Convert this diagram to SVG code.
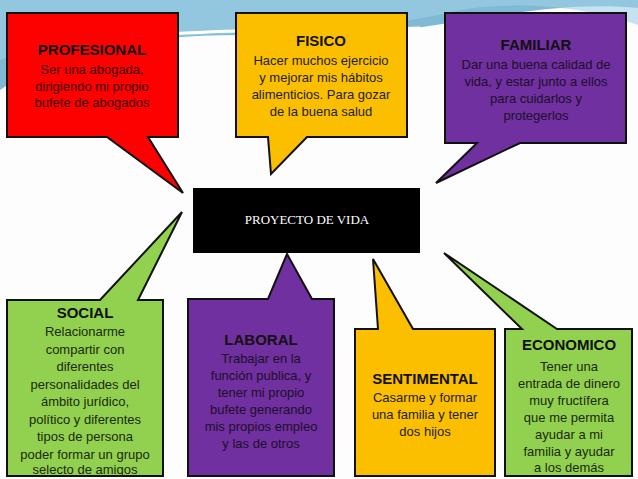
<svg xmlns="http://www.w3.org/2000/svg" width="638" height="479" viewBox="0 0 638 479">
<style>
.b{stroke:#111;stroke-width:2;stroke-linejoin:miter}
.t{font-family:"Liberation Sans",Arial,sans-serif;font-weight:bold;font-size:15px;text-anchor:middle;fill:#111}
.d{font-family:"Liberation Sans",Arial,sans-serif;font-size:13px;text-anchor:middle}
</style>
<rect width="638" height="479" fill="#fdfdfd"/>
<path d="M0 0H638V8C560 0 480 20 400 30C300 40 200 28 120 45C70 55 30 70 0 90Z" fill="#7fb9d4"/>
<path d="M0 60C60 35 130 40 200 35C300 30 380 30 460 10C520 0 590 8 638 25V0H0Z" fill="#9fd0e6" opacity="0.6"/>
<path d="M150 35C250 28 330 30 420 28" stroke="#fff" stroke-width="3" fill="none"/>
<g id="profesional"><path class="b" fill="#fd0000" d="M7 13H178V137H148L183 193L107 137H7Z"/>
<text class="t" x="92" y="55">PROFESIONAL</text>
<text class="d" fill="#3a0000"><tspan x="92" y="74">Ser una abogada,</tspan><tspan x="92" y="91">dirigiendo mi propio</tspan><tspan x="92" y="107">bufete de abogados</tspan></text></g>
<g id="fisico"><path class="b" fill="#fcbf00" d="M236 13H407V137H307L271 174L268 137H236Z"/>
<text class="t" x="321" y="46">FISICO</text>
<text class="d" fill="#222"><tspan x="321" y="65">Hacer muchos ejercicio</tspan><tspan x="321" y="82">y mejorar mis hábitos</tspan><tspan x="321" y="99">alimenticios. Para gozar</tspan><tspan x="321" y="116">de la buena salud</tspan></text></g>
<g id="familiar"><path class="b" fill="#7030a0" d="M445 13H626V143H520L436 183L477 143H445Z"/>
<text class="t" x="536" y="50">FAMILIAR</text>
<text class="d" fill="#1c0f2a"><tspan x="536" y="69">Dar una buena calidad de</tspan><tspan x="536" y="86">vida, y estar junto a ellos</tspan><tspan x="536" y="103">para cuidarlos y</tspan><tspan x="536" y="120">protegerlos</tspan></text></g>
<g id="centro"><rect x="193" y="188" width="227" height="65" fill="#000"/>
<text x="307" y="224" fill="#fff" font-family="Liberation Serif,serif" font-size="13" text-anchor="middle">PROYECTO DE VIDA</text></g>
<g id="social"><path class="b" fill="#92d050" d="M7 300H100L182 212L138 300H163V476H7Z"/>
<text class="t" x="85" y="318">SOCIAL</text>
<text class="d" fill="#1a2a0a"><tspan x="85" y="336">Relacionarme</tspan><tspan x="85" y="353.5">compartir con</tspan><tspan x="85" y="371">diferentes</tspan><tspan x="85" y="388.5">personalidades del</tspan><tspan x="85" y="406">ámbito jurídico,</tspan><tspan x="85" y="423.5">político y diferentes</tspan><tspan x="85" y="441">tipos de persona</tspan><tspan x="85" y="458.5">poder formar un grupo</tspan><tspan x="85" y="474">selecto de amigos</tspan></text></g>
<g id="laboral"><path class="b" fill="#7030a0" d="M188 299H268L287 254L312 299H334V476H188Z"/>
<text class="t" x="261" y="345">LABORAL</text>
<text class="d" fill="#1c0f2a"><tspan x="261" y="363">Trabajar en la</tspan><tspan x="261" y="380">función publica, y</tspan><tspan x="261" y="397">tener mi propio</tspan><tspan x="261" y="414">bufete generando</tspan><tspan x="261" y="431">mis propios  empleo</tspan><tspan x="261" y="448">y las de otros</tspan></text></g>
<g id="sentimental"><path class="b" fill="#fcbf00" d="M355 329H378L373 259L413 329H495V476H355Z"/>
<text class="t" x="425" y="384">SENTIMENTAL</text>
<text class="d" fill="#222"><tspan x="425" y="402">Casarme y formar</tspan><tspan x="425" y="419">una familia y tener</tspan><tspan x="425" y="436">dos hijos</tspan></text></g>
<g id="economico"><path class="b" fill="#92d050" d="M505 329H522L444 253L557 329H632V476H505Z"/>
<text class="t" x="569" y="350">ECONOMICO</text>
<text class="d" fill="#1a2a0a"><tspan x="569" y="371">Tener una</tspan><tspan x="569" y="388">entrada de dinero</tspan><tspan x="569" y="405">muy fructífera</tspan><tspan x="569" y="422">que me permita</tspan><tspan x="569" y="439">ayudar a mi</tspan><tspan x="569" y="456">familia  y ayudar</tspan><tspan x="569" y="472">a los demás</tspan></text></g>
<g id="connectors"/>
</svg>
